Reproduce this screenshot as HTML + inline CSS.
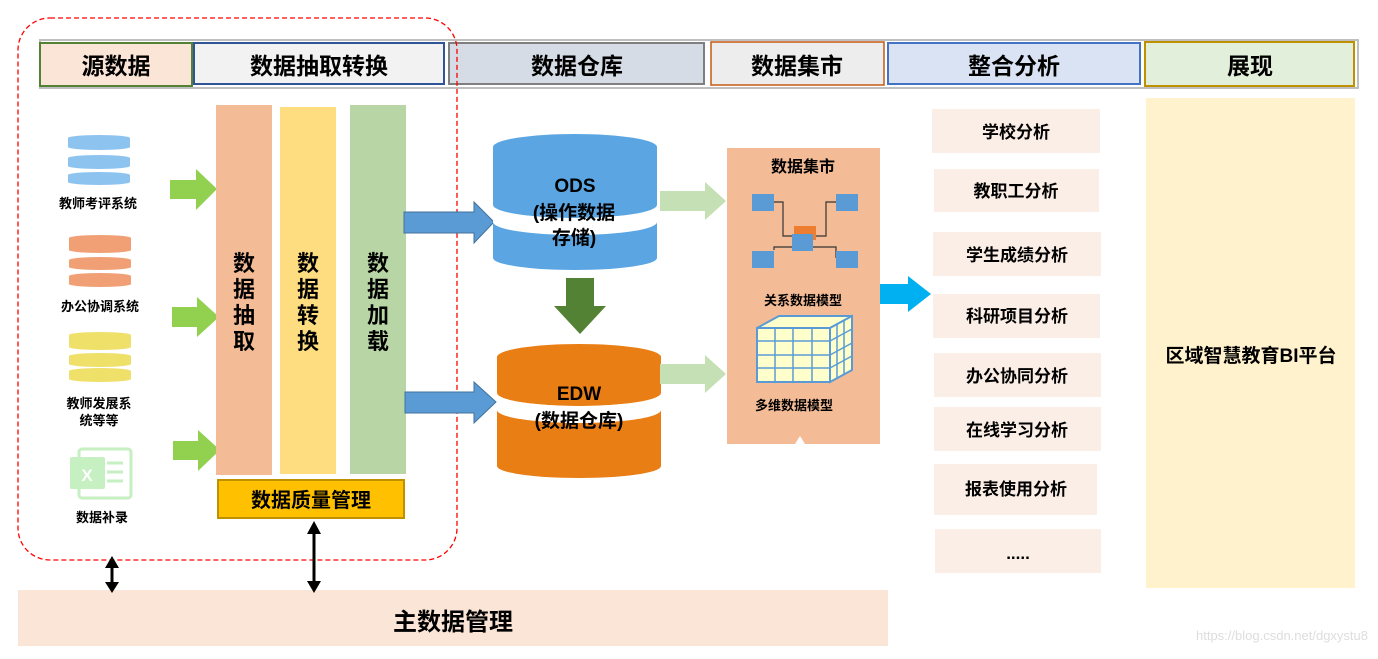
<!DOCTYPE html>
<html><head><meta charset="utf-8"><style>
body{margin:0;background:#fff}
svg text{font-family:"Liberation Sans","Noto Sans CJK SC",sans-serif;font-weight:bold;fill:#000}
</style></head><body>
<svg width="1378" height="654" viewBox="0 0 1378 654" xmlns="http://www.w3.org/2000/svg">
<!-- header -->
<rect x="40" y="40" width="1318" height="48" fill="#fff" stroke="#bfbfbf" stroke-width="2"/>
<rect x="40" y="43" width="152" height="43" fill="#fbe5d6" stroke="#548235" stroke-width="2"/>
<rect x="194" y="43" width="250" height="41" fill="#f2f2f2" stroke="#2f5597" stroke-width="2"/>
<rect x="449" y="43" width="255" height="41" fill="#d6dce5" stroke="#7f7f7f" stroke-width="2"/>
<rect x="711" y="42" width="173" height="43" fill="#ededed" stroke="#c55a11" stroke-width="1.5"/>
<rect x="888" y="43" width="252" height="41" fill="#dae3f3" stroke="#4472c4" stroke-width="2"/>
<rect x="1145" y="42" width="209" height="44" fill="#e2efda" stroke="#bf9000" stroke-width="2"/>
<g font-size="23" text-anchor="middle">
<text x="116" y="74">源数据</text><text x="319" y="74">数据抽取转换</text><text x="577" y="74">数据仓库</text>
<text x="797" y="74">数据集市</text><text x="1014" y="74">整合分析</text><text x="1250" y="74">展现</text>
</g>
<!-- dashed -->
<rect x="18" y="18" width="439" height="542" rx="32" fill="none" stroke="#ff0000" stroke-width="1.3" stroke-dasharray="5,3"/>
<!-- source dbs -->
<g fill="#8dc3ef">
<path d="M68,138 a31,3 0 0 1 62,0 v9 a31,3 0 0 1 -62,0z"/>
<path d="M68,158 a31,3 0 0 1 62,0 v8 a31,3 0 0 1 -62,0z"/>
<path d="M68,175 a31,3 0 0 1 62,0 v7 a31,3 0 0 1 -62,0z"/>
</g>
<g fill="#f0a074">
<path d="M69,238 a31,3 0 0 1 62,0 v12 a31,3 0 0 1 -62,0z"/>
<path d="M69,260 a31,3 0 0 1 62,0 v7 a31,3 0 0 1 -62,0z"/>
<path d="M69,276 a31,3 0 0 1 62,0 v8 a31,3 0 0 1 -62,0z"/>
</g>
<g fill="#efe06a">
<path d="M69,335 a31,3 0 0 1 62,0 v12 a31,3 0 0 1 -62,0z"/>
<path d="M69,356 a31,3 0 0 1 62,0 v8 a31,3 0 0 1 -62,0z"/>
<path d="M69,371 a31,3 0 0 1 62,0 v8 a31,3 0 0 1 -62,0z"/>
</g>
<!-- excel -->
<rect x="79" y="449" width="52" height="49" rx="3" fill="#fff" stroke="#c6efc2" stroke-width="3"/>
<rect x="70" y="457" width="35" height="32" rx="2" fill="#c6efc2"/>
<text x="87" y="481" font-size="17" text-anchor="middle" style="fill:#fff">X</text>
<g stroke="#c6efc2" stroke-width="3"><line x1="107" y1="463" x2="123" y2="463"/><line x1="107" y1="472" x2="123" y2="472"/><line x1="107" y1="481" x2="123" y2="481"/></g>
<g font-size="13" text-anchor="middle">
<text x="98" y="208">教师考评系统</text><text x="100" y="311">办公协调系统</text>
<text x="99" y="408">教师发展系</text><text x="99" y="425">统等等</text><text x="102" y="522">数据补录</text>
</g>
<!-- green arrows -->
<g fill="#92d050">
<polygon points="170,180 196,180 196,169 217,189 196,210 196,199 170,199"/>
<polygon points="172,307 197,307 197,297 219,317 197,337 197,327 172,327"/>
<polygon points="173,441 198,441 198,430 220,450 198,471 198,460 173,460"/>
</g>
<!-- columns -->
<rect x="216" y="105" width="56" height="370" fill="#f4bc96"/>
<rect x="280" y="107" width="56" height="367" fill="#fedd80"/>
<rect x="350" y="105" width="56" height="369" fill="#b8d6a5"/>
<g font-size="22" text-anchor="middle">
<text x="244" y="271">数</text><text x="244" y="297">据</text><text x="244" y="323">抽</text><text x="244" y="349">取</text>
<text x="308" y="271">数</text><text x="308" y="297">据</text><text x="308" y="323">转</text><text x="308" y="349">换</text>
<text x="378" y="271">数</text><text x="378" y="297">据</text><text x="378" y="323">加</text><text x="378" y="349">载</text>
</g>
<rect x="218" y="480" width="186" height="38" fill="#ffc000" stroke="#bf9000" stroke-width="2"/>
<text x="311" y="507" font-size="20" text-anchor="middle">数据质量管理</text>
<!-- blue arrows -->
<polygon points="404,212 474,212 474,202 494,222 474,243 474,233 404,233" fill="#5b9bd5" stroke="#41719c"/>
<polygon points="405,392 474,392 474,382 496,402 474,423 474,413 405,413" fill="#5b9bd5" stroke="#41719c"/>
<!-- ODS -->
<g fill="#5ba6e2">
<ellipse cx="575" cy="147" rx="82" ry="13"/><rect x="493" y="147" width="164" height="58"/><ellipse cx="575" cy="205" rx="82" ry="13"/>
<rect x="493" y="222" width="164" height="36"/><ellipse cx="575" cy="258" rx="82" ry="12"/>
</g>
<path d="M493,205 a82,13 0 0 0 164,0 v17 a82,13 0 0 1 -164,0z" fill="#fff"/>
<g font-size="19" text-anchor="middle"><text x="575" y="192">ODS</text><text x="574" y="219">(操作数据</text><text x="574" y="244">存储)</text></g>
<!-- down arrow -->
<polygon points="566,278 594,278 594,306 606,306 580,334 554,306 566,306" fill="#548235"/>
<!-- EDW -->
<g fill="#e97e14">
<ellipse cx="579" cy="357" rx="82" ry="13"/><rect x="497" y="357" width="164" height="36"/><ellipse cx="579" cy="393" rx="82" ry="13"/>
<rect x="497" y="410" width="164" height="56"/><ellipse cx="579" cy="466" rx="82" ry="12"/>
</g>
<path d="M497,393 a82,13 0 0 0 164,0 v17 a82,13 0 0 1 -164,0z" fill="#fff"/>
<g font-size="19" text-anchor="middle"><text x="579" y="400">EDW</text><text x="579" y="427">(数据仓库)</text></g>
<!-- light green arrows -->
<g fill="#c5e0b4">
<polygon points="660,191 705,191 705,182 726,201 705,220 705,211 660,211"/>
<polygon points="660,364 705,364 705,355 726,374 705,393 705,384 660,384"/>
</g>
<!-- data mart -->
<rect x="727" y="148" width="153" height="296" fill="#f4bc96"/>
<text x="803" y="172" font-size="16" text-anchor="middle">数据集市</text>
<g fill="none" stroke="#333" stroke-width="1.2">
<polyline points="774,202 783,202 783,236 796,236"/><polyline points="836,202 826,202 826,236 813,236"/>
<polyline points="774,250 774,247 800,247"/><polyline points="836,258 836,247 812,247"/>
</g>
<rect x="794" y="226" width="22" height="14" fill="#ed7d31"/>
<g fill="#5b9bd5">
<rect x="752" y="194" width="22" height="17"/><rect x="836" y="194" width="22" height="17"/>
<rect x="792" y="234" width="21" height="17"/>
<rect x="752" y="251" width="22" height="17"/><rect x="836" y="251" width="22" height="17"/>
</g>
<text x="803" y="305" font-size="13" text-anchor="middle">关系数据模型</text>
<polygon points="757,328 830,328 852,316 779,316" fill="#ffffcc" stroke="#5b9bd5" stroke-width="2"/>
<polygon points="830,328 852,316 852,370 830,382" fill="#ffffcc" stroke="#5b9bd5" stroke-width="2"/>
<rect x="757" y="328" width="73" height="54" fill="#ffffcc" stroke="#5b9bd5" stroke-width="2"/>
<g stroke="#5b9bd5" stroke-width="1.5">
<line x1="775" y1="328" x2="775" y2="382"/><line x1="793" y1="328" x2="793" y2="382"/><line x1="812" y1="328" x2="812" y2="382"/>
<line x1="757" y1="341" x2="830" y2="341"/><line x1="757" y1="355" x2="830" y2="355"/><line x1="757" y1="368" x2="830" y2="368"/>
<line x1="837" y1="324" x2="837" y2="378"/><line x1="844" y1="320" x2="844" y2="374"/>
<line x1="830" y1="341" x2="852" y2="329"/><line x1="830" y1="355" x2="852" y2="343"/><line x1="830" y1="368" x2="852" y2="356"/>
</g>
<text x="794" y="410" font-size="13" text-anchor="middle">多维数据模型</text>
<polygon points="795,444 800,436 805,444" fill="#fff"/>
<!-- cyan arrow -->
<polygon points="880,284 908,284 908,276 931,294 908,312 908,304 880,304" fill="#00b0f0"/>
<!-- analysis boxes -->
<g fill="#fbeee6">
<rect x="932" y="109" width="168" height="44"/><rect x="934" y="169" width="165" height="43"/>
<rect x="933" y="232" width="168" height="44"/><rect x="933" y="294" width="167" height="44"/>
<rect x="934" y="353" width="167" height="44"/><rect x="934" y="407" width="167" height="44"/>
<rect x="934" y="464" width="163" height="51"/><rect x="935" y="529" width="166" height="44"/>
</g>
<g font-size="17" text-anchor="middle">
<text x="1016" y="138">学校分析</text><text x="1016" y="197">教职工分析</text><text x="1017" y="261">学生成绩分析</text>
<text x="1017" y="322">科研项目分析</text><text x="1017" y="382">办公协同分析</text><text x="1017" y="436">在线学习分析</text>
<text x="1016" y="495">报表使用分析</text><text x="1018" y="559">.....</text>
</g>
<rect x="1146" y="98" width="209" height="490" fill="#fff2cc"/>
<text x="1251" y="362" font-size="19" text-anchor="middle">区域智慧教育BI平台</text>
<!-- master data -->
<rect x="18" y="590" width="870" height="56" fill="#fbe5d6"/>
<text x="453" y="630" font-size="24" text-anchor="middle">主数据管理</text>
<!-- double arrows -->
<g stroke="#000" stroke-width="3"><line x1="112" y1="566" x2="112" y2="584"/><line x1="314" y1="532" x2="314" y2="584"/></g>
<g fill="#000">
<polygon points="105,568 112,556 119,568"/><polygon points="105,582 112,593 119,582"/>
<polygon points="307,534 314,521 321,534"/><polygon points="307,581 314,593 321,581"/>
</g>
<text x="1368" y="640" font-size="13" text-anchor="end" style="fill:#ddd;font-weight:normal">https://blog.csdn.net/dgxystu8</text>
</svg>
</body></html>
